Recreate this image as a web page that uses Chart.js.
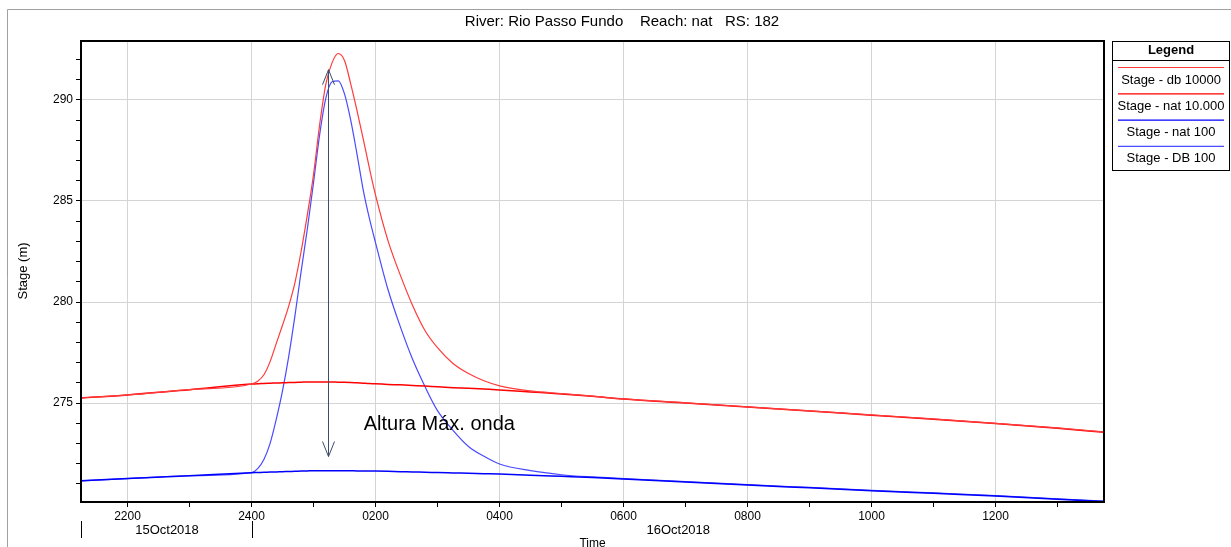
<!DOCTYPE html>
<html>
<head>
<meta charset="utf-8">
<script src="https://cdn.jsdelivr.net/npm/chart.js@4.4.1/dist/chart.umd.min.js"></script>
<style>
  html, body { margin: 0; padding: 0; background: #fff; }
  canvas { display: block; }
</style>
</head>
<body>
<canvas id="stage_chart" width="1231" height="547"></canvas>
<script>
/*----------
Hidrograma de cotas - Rio Passo Fundo
----------*/

// horas contadas a partir de 15Oct2018 0000
const hours = [21.25, 22, 23, 24, 24.1, 24.2, 24.3, 24.4, 24.5, 24.6, 24.7, 24.8, 24.9, 25.0,
  25.1, 25.2, 25.3, 25.4, 25.5, 25.6, 25.7, 25.8, 25.9, 26.0, 26.2, 26.4, 26.6, 26.8, 27.0,
  27.25, 27.5, 27.75, 28.0, 28.5, 29, 29.5, 30, 31, 32, 33, 34, 35, 36, 37, 37.75];

const stageDb10000 = [275.25, 275.40, 275.66, 275.94, 276.08, 276.40, 277.05, 277.95, 278.85, 279.80,
  280.95, 282.50, 284.30, 286.30, 288.80, 290.80, 291.85, 292.30, 291.95, 290.80, 289.50, 288.10,
  286.65, 285.30, 283.05, 281.33, 279.82, 278.58, 277.74, 276.96, 276.46, 276.10, 275.85, 275.60,
  275.47, 275.34, 275.20, 275.01, 274.81, 274.61, 274.41, 274.21, 273.99, 273.77, 273.57];

const stageNat10000 = [275.25, 275.40, 275.66, 275.94, 275.95, 275.97, 275.98, 275.99, 276.00, 276.01,
  276.02, 276.03, 276.04, 276.04, 276.04, 276.04, 276.04, 276.03, 276.03, 276.02, 276.00, 275.98,
  275.96, 275.95, 275.92, 275.90, 275.87, 275.84, 275.80, 275.76, 275.73, 275.69, 275.65, 275.55,
  275.45, 275.33, 275.20, 275.00, 274.80, 274.60, 274.40, 274.20, 273.98, 273.75, 273.55];

const stageNat100 = [271.15, 271.26, 271.40, 271.55, 271.56, 271.57, 271.58, 271.59, 271.60, 271.61,
  271.62, 271.63, 271.64, 271.65, 271.65, 271.65, 271.65, 271.65, 271.65, 271.65, 271.64, 271.64,
  271.63, 271.63, 271.62, 271.60, 271.59, 271.57, 271.56, 271.54, 271.52, 271.50, 271.48, 271.43,
  271.37, 271.31, 271.24, 271.09, 270.94, 270.80, 270.66, 270.53, 270.40, 270.23, 270.12];

const stageDb100 = [271.15, 271.26, 271.40, 271.55, 271.75, 272.20, 273.00, 274.20, 275.60, 277.30,
  279.30, 281.50, 283.60, 285.90, 288.30, 290.10, 290.90, 290.95, 290.30, 289.00, 287.35, 285.58,
  284.16, 282.94, 280.63, 278.78, 277.15, 275.80, 274.62, 273.65, 272.85, 272.36, 271.98, 271.65,
  271.45, 271.34, 271.26, 271.11, 270.96, 270.82, 270.68, 270.55, 270.42, 270.25, 270.14];

const seriesNames = ['Stage - db 10000', 'Stage - nat 10.000', 'Stage - nat 100', 'Stage - DB 100'];
const seriesColors = ['#ff3b3b', '#ff0000', '#0000ff', '#4a4aff'];

const xTicks = [22, 23, 24, 25, 26, 27, 28, 29, 30, 31, 32, 33, 34, 35, 36, 37];
const yTicks = [271, 272, 273, 274, 275, 276, 277, 278, 279, 280, 281, 282, 283, 284, 285, 286,
  287, 288, 289, 290, 291, 292];
const dayLabels = ['15Oct2018', '16Oct2018'];
const dayStarts = [21.25, 24];

// anotação da onda
const arrowHour = 25.24;
const arrowTop = 291.5;
const arrowBottom = 272.35;
const noteText = 'Altura Máx. onda';
const noteHour = 25.81;
const noteStage = 273.66;

const FONT = "'Liberation Sans', Arial, sans-serif";

function hourLabel(h) {
  if (h === 24) return '2400';
  let hh = h % 24;
  return (hh < 10 ? '0' : '') + hh + '00';
}

function pts(values) {
  return hours.map(function (h, i) { return { x: h, y: values[i] }; });
}

// moldura, título, legenda e anotação
const decorPlugin = {
  id: 'decor',
  beforeDraw: function (chart) {
    let c = chart.ctx;
    c.save();
    c.fillStyle = '#fff';
    c.fillRect(0, 0, chart.width, chart.height);
    c.restore();
  },
  afterDraw: function (chart) {
    let c = chart.ctx;
    let a = chart.chartArea;
    let xs = chart.scales.x;
    let ys = chart.scales.y;
    c.save();

    // moldura externa
    c.strokeStyle = '#a0a0a0';
    c.lineWidth = 1;
    c.beginPath();
    c.moveTo(7.5, chart.height);
    c.lineTo(7.5, 9.5);
    c.lineTo(chart.width, 9.5);
    c.stroke();

    // caixa do gráfico
    c.strokeStyle = '#000';
    c.lineWidth = 2;
    c.strokeRect(a.left, a.top, a.right - a.left, a.bottom - a.top);

    // título
    c.fillStyle = '#000';
    c.font = '15px ' + FONT;
    c.textAlign = 'center';
    c.textBaseline = 'middle';
    c.fillText('River: Rio Passo Fundo    Reach: nat   RS: 182', 622, 22);

    // título eixo y
    c.save();
    c.translate(23, 271);
    c.rotate(-Math.PI / 2);
    c.font = '13px ' + FONT;
    c.fillText('Stage (m)', 0, 0);
    c.restore();

    // linha das datas
    c.font = '13px ' + FONT;
    let sepX = dayStarts.map(function (h) { return Math.round(xs.getPixelForValue(h)) + 0.5; });
    c.strokeStyle = '#000';
    c.lineWidth = 1;
    sepX.forEach(function (px) {
      c.beginPath();
      c.moveTo(px, 521);
      c.lineTo(px, 538);
      c.stroke();
    });
    let ends = [sepX[1], a.right];
    dayLabels.forEach(function (t, i) {
      c.fillText(t, (sepX[i] + ends[i]) / 2, 530);
    });
    c.font = '12px ' + FONT;
    c.fillText('Time', (a.left + a.right) / 2, 544);

    // seta de altura máxima
    let ax = Math.round(xs.getPixelForValue(arrowHour)) + 0.5;
    let at = ys.getPixelForValue(arrowTop);
    let ab = ys.getPixelForValue(arrowBottom);
    c.strokeStyle = '#3e4d6b';
    c.lineWidth = 1;
    c.beginPath();
    c.moveTo(ax, at);
    c.lineTo(ax, ab);
    c.moveTo(ax - 6, at + 15);
    c.lineTo(ax, at);
    c.lineTo(ax + 6, at + 15);
    c.moveTo(ax - 6, ab - 15);
    c.lineTo(ax, ab);
    c.lineTo(ax + 6, ab - 15);
    c.stroke();

    c.fillStyle = '#000';
    c.font = '20px ' + FONT;
    c.textAlign = 'left';
    c.textBaseline = 'alphabetic';
    c.fillText(noteText, xs.getPixelForValue(noteHour), ys.getPixelForValue(noteStage));

    // legenda
    let lx = 1112.5, ly = 41.5, lw = 117, lh = 129;
    c.strokeStyle = '#000';
    c.lineWidth = 1;
    c.strokeRect(lx, ly, lw, lh);
    c.beginPath();
    c.moveTo(lx, 60.5);
    c.lineTo(lx + lw, 60.5);
    c.stroke();
    c.textAlign = 'center';
    c.textBaseline = 'middle';
    c.font = 'bold 13px ' + FONT;
    c.fillText('Legend', lx + lw / 2, 50);
    c.font = '13px ' + FONT;
    seriesNames.forEach(function (name, i) {
      let y0 = 67.5 + i * 26.3;
      c.strokeStyle = seriesColors[i];
      c.lineWidth = 1.2;
      c.beginPath();
      c.moveTo(1118, y0);
      c.lineTo(1224, y0);
      c.stroke();
      c.fillText(name, lx + lw / 2, y0 + 12.5);
    });

    c.restore();
  }
};

let stageCtx = document.getElementById('stage_chart');
let stageConfig = {
  type: 'line',
  data: {
    datasets: [
      { label: seriesNames[0], data: pts(stageDb10000), borderColor: seriesColors[0], borderWidth: 1.2 },
      { label: seriesNames[1], data: pts(stageNat10000), borderColor: seriesColors[1], borderWidth: 1.5 },
      { label: seriesNames[2], data: pts(stageNat100), borderColor: seriesColors[2], borderWidth: 1.5 },
      { label: seriesNames[3], data: pts(stageDb100), borderColor: seriesColors[3], borderWidth: 1.2 }
    ]
  },
  options: {
    responsive: false,
    animation: false,
    devicePixelRatio: 1,
    elements: {
      point: { radius: 0 },
      line: { cubicInterpolationMode: 'monotone', fill: false }
    },
    layout: { padding: { left: 0, right: 127, top: 41, bottom: 0 } },
    plugins: {
      legend: { display: false },
      title: { display: false },
      tooltip: { enabled: false }
    },
    scales: {
      x: {
        type: 'linear',
        min: 21.25,
        max: 37.75,
        afterBuildTicks: function (scale) {
          scale.ticks = xTicks.map(function (v) { return { value: v }; });
        },
        afterFit: function (scale) { scale.height = 45; },
        border: { display: true, color: '#000', width: 2 },
        grid: {
          color: function (ctx) {
            return ctx.tick && ctx.tick.value % 2 === 0 ? '#d4d4d4' : 'rgba(0,0,0,0)';
          },
          tickColor: '#000',
          tickLength: 5,
          lineWidth: 1
        },
        ticks: {
          autoSkip: false,
          maxRotation: 0,
          padding: 2,
          color: '#000',
          font: { family: FONT, size: 12 },
          callback: function (v) { return v % 2 === 0 ? hourLabel(v) : ''; }
        }
      },
      y: {
        min: 270.1,
        max: 292.92,
        afterBuildTicks: function (scale) {
          scale.ticks = yTicks.map(function (v) { return { value: v }; });
        },
        afterFit: function (scale) { scale.width = 81; },
        border: { display: true, color: '#000', width: 2 },
        grid: {
          color: function (ctx) {
            return ctx.tick && ctx.tick.value % 5 === 0 ? '#d4d4d4' : 'rgba(0,0,0,0)';
          },
          tickColor: '#000',
          tickLength: 5,
          lineWidth: 1
        },
        ticks: {
          padding: 3,
          color: '#000',
          font: { family: FONT, size: 12 },
          callback: function (v) { return v % 5 === 0 ? String(v) : ''; }
        }
      }
    }
  },
  plugins: [decorPlugin]
};
let stageChart = new Chart(stageCtx, stageConfig);
</script>
</body>
</html>
